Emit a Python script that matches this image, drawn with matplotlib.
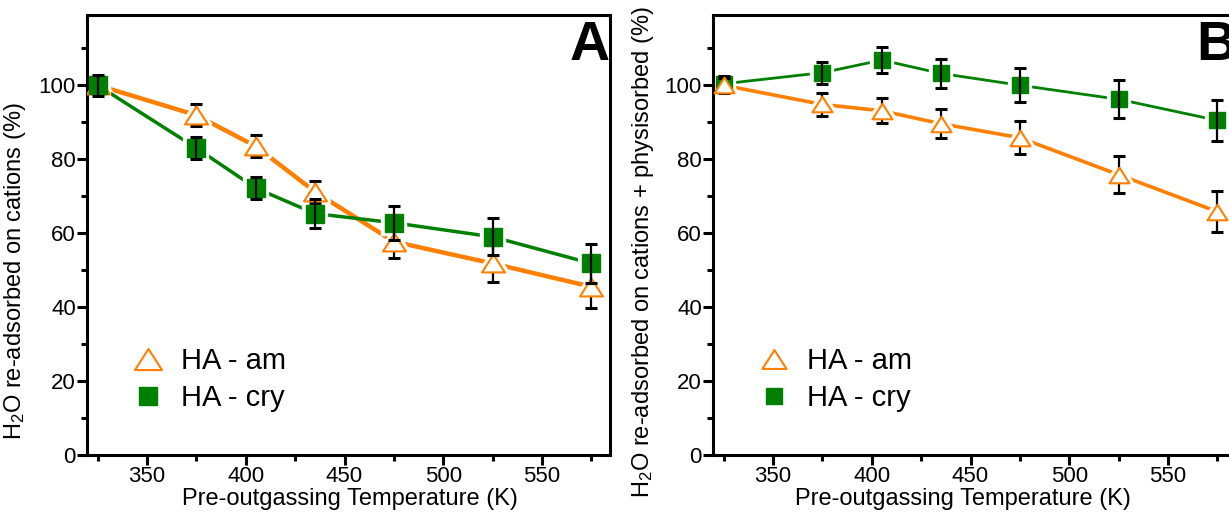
import matplotlib
matplotlib.use('Agg')
from matplotlib import pyplot as plt
from matplotlib.path import Path
from matplotlib.lines import Line2D

plt.rcParams['font.family'] = ['Liberation Sans', 'DejaVu Sans']
plt.rcParams['mathtext.default'] = 'regular'

# data
temps = [325, 375, 405, 435, 475, 525, 575]

am_A = [100, 91.9, 83.5, 71.2, 57.7, 51.8, 45.5]
am_A_err = [2.0, 3.0, 3.0, 3.0, 4.5, 5.0, 5.8]
cry_A = [100, 83.0, 72.2, 65.3, 62.8, 59.0, 51.8]
cry_A_err = [2.8, 3.0, 3.0, 3.9, 4.6, 5.0, 5.4]

am_B = [100, 94.8, 93.1, 89.6, 85.8, 75.8, 65.8]
am_B_err = [2.0, 3.0, 3.4, 4.0, 4.5, 5.0, 5.5]
cry_B = [100.4, 103.4, 106.8, 103.2, 100.0, 96.2, 90.5]
cry_B_err = [2.0, 3.0, 3.6, 4.0, 4.6, 5.1, 5.6]

labels = ['HA - am', 'HA - cry']
xticks = [350, 400, 450, 500, 550]
xminor = [325, 375, 425, 475, 525, 575]
yticks = [0, 20, 40, 60, 80, 100]
yminor = [10, 30, 50, 70, 90, 110]

orange = '#FF8000'
green = '#008000'

# wide, flat triangle like the Origin one
tri = Path([(0, 0.78), (-1, -0.78), (1, -0.78), (0, 0.78)],
           [Path.MOVETO, Path.LINETO, Path.LINETO, Path.CLOSEPOLY])


def panel(ax, am, am_err, cry, cry_err, lw_am, lw_cry, ms_tri, ms_sq, tri_on_top,
          letter, ylabel, ylab_pos, xlab_pos):
    # lines, then white halos so the lines stop short of the markers
    ax.plot(temps, am, color=orange, lw=lw_am, zorder=1, solid_capstyle='round')
    ax.plot(temps, am, ls='none', marker=tri, ms=ms_tri, mfc='white', mec='white',
            mew=6, zorder=1.1)
    ax.plot(temps, cry, color=green, lw=lw_cry, zorder=1.2, solid_capstyle='round')
    ax.plot(temps, cry, ls='none', marker='s', ms=ms_sq, mfc='white', mec='white',
            mew=6, zorder=1.3)

    eb = dict(fmt='none', ecolor='black', elinewidth=1.6, capsize=4.3, capthick=2.2)
    if tri_on_top:
        z_sq, z_sqe, z_tre, z_tr = 3, 4, 4, 5
    else:
        z_tre, z_tr, z_sq, z_sqe = 3, 4, 5, 6
    ax.errorbar(temps, am, yerr=am_err, zorder=z_tre, **eb)
    ax.plot(temps, am, ls='none', marker=tri, ms=ms_tri, mfc='white', mec=orange,
            mew=1.5, zorder=z_tr)
    ax.plot(temps, cry, ls='none', marker='s', ms=ms_sq, mfc=green, mec=green,
            mew=1, zorder=z_sq)
    ax.errorbar(temps, cry, yerr=cry_err, zorder=z_sqe, **eb)

    ax.set_xlim(319.6, 584.4)
    ax.set_ylim(0, 119)
    ax.set_xticks(xticks)
    ax.set_xticks(xminor, minor=True)
    ax.set_yticks(yticks)
    ax.set_yticks(yminor, minor=True)
    ax.tick_params(which='major', direction='out', length=7, width=2.2,
                   labelsize=16, pad=1)
    ax.tick_params(which='minor', direction='out', length=4.3, width=2.2)
    for s in ax.spines.values():
        s.set_linewidth(2.2)

    ax.set_xlabel('Pre-outgassing Temperature (K)', fontsize=17)
    ax.xaxis.set_label_coords(*xlab_pos)
    ax.set_ylabel(ylabel, fontsize=17)
    ax.yaxis.set_label_coords(*ylab_pos)

    ax.text(0.962, 0.93, letter, transform=ax.transAxes, ha='center', va='center',
            fontsize=40, fontweight='bold',
            family=['Liberation Sans Narrow', 'Liberation Sans'])

    handles = [Line2D([], [], ls='none', marker=tri, ms=ms_tri + 3, mfc='white',
                      mec=orange, mew=1.5),
               Line2D([], [], ls='none', marker='s', ms=ms_sq, mfc=green, mec=green)]
    ax.legend(handles, labels, loc='lower left', bbox_to_anchor=(0.084, 0.098),
              frameon=False, fontsize=21, handlelength=1.2, handletextpad=0.5,
              labelspacing=0.3, borderpad=0, borderaxespad=0)


fig = plt.figure(figsize=(12.29, 5.15), dpi=100)
axA = fig.add_axes([87 / 1229, 60 / 515, 523 / 1229, 440 / 515])
axB = fig.add_axes([713 / 1229, 60 / 515, 523 / 1229, 440 / 515])

panel(axA, am_A, am_A_err, cry_A, cry_A_err, 3.2, 2.5, 16.5, 13, False, 'A',
      'H$_2$O re-adsorbed on cations (%)', (-0.113, 0.418), (0.503, -0.075))
panel(axB, am_B, am_B_err, cry_B, cry_B_err, 2.6, 2.0, 14.4, 11, True, 'B',
      'H$_2$O re-adsorbed on cations + physisorbed (%)', (-0.109, 0.461),
      (0.478, -0.075))

fig.savefig('out.png', dpi=100)
